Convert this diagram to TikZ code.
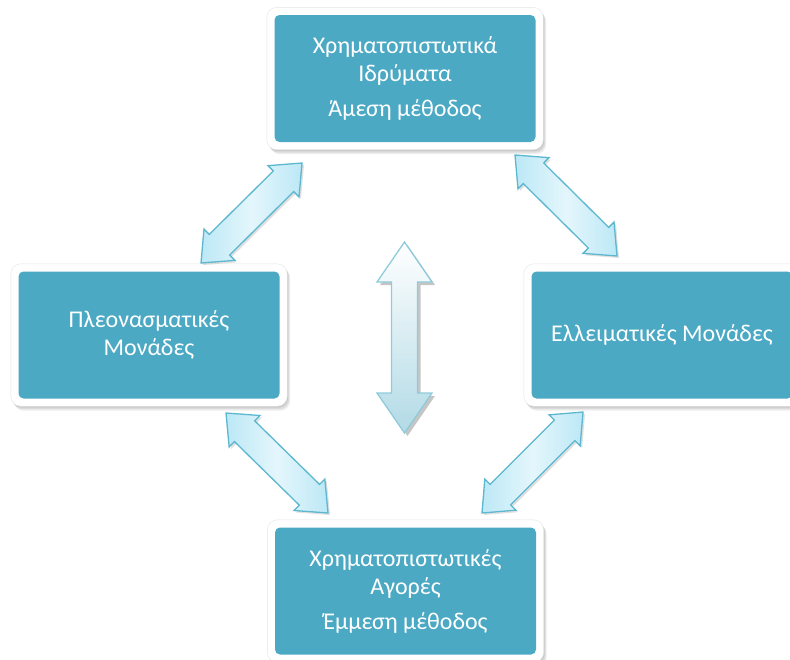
\documentclass[tikz,border=0pt]{standalone}
\usepackage{fontspec}
\setmainfont{Carlito}
\usetikzlibrary{calc,fit,backgrounds}
\definecolor{boxteal}{HTML}{4BA9C4}
\definecolor{arrowedge}{HTML}{5CB7CF}
\definecolor{arrowlight}{HTML}{E4F6FC}
\definecolor{arrowdark}{HTML}{BCE8F6}
\definecolor{cedge}{HTML}{8FCBDB}
\definecolor{cbottom}{HTML}{B2DAE6}
\newcommand\barrow[6]{%
  \path[#6] let \p1=#1, \p2=#2, \n1={veclen(\x2-\x1,\y2-\y1)}, \n2={atan2(\y2-\y1,\x2-\x1)} in
   [shift={(\p1)}, rotate=\n2]
   (0,0) -- (#5,#4) -- (#5,#3) -- (\n1-#5,#3) -- (\n1-#5,#4) -- (\n1,0)
   -- (\n1-#5,-#4) -- (\n1-#5,-#3) -- (#5,-#3) -- (#5,-#4) -- cycle;
}
\tikzset{
  box/.style={fill=boxteal, text=white, rounded corners=5pt, align=center,
    minimum width=261pt, minimum height=127pt, inner sep=0pt,
    font=\fontsize{24}{28}\selectfont},
  frame/.style={fill=white, draw=black!10, rounded corners=10pt, inner sep=7.5pt,
    preaction={fill=black, opacity=.08, transform canvas={shift={(1pt,-1.5pt)}}},
    preaction={fill=black, opacity=.08, transform canvas={shift={(2pt,-3pt)}}},
    preaction={fill=black, opacity=.07, transform canvas={shift={(3pt,-4.5pt)}}}},
  diag/.style={draw=arrowedge, line width=1.3pt, line join=miter,
    left color=arrowdark, right color=arrowdark, middle color=arrowlight,
    preaction={fill=black, opacity=.12, transform canvas={shift={(2pt,-2pt)}}}},
  center/.style={draw=cedge, line width=1.3pt, top color=white, bottom color=cbottom,
    preaction={fill=black!45, opacity=.5, transform canvas={shift={(3pt,-3pt)}}}}
}
\begin{document}
\begin{tikzpicture}[x=1pt,y=-1pt]
\useasboundingbox (0,0) rectangle (790,659);
\node[box] (t) at (405,78.5) {Χρηματοπιστωτικά\\Ιδρύματα\\[7pt]Άμεση μέθοδος};
\node[box] (l) at (149,335) {Πλεονασματικές\\Μονάδες};
\node[box] (r) at (662,335) {Ελλειματικές Μονάδες};
\node[box] (b) at (405.5,591) {Χρηματοπιστωτικές\\Αγορές\\[7pt]Έμμεση μέθοδος};
\begin{scope}[on background layer]
  \node[frame, fit=(t)] (tf) {};
  \node[frame, fit=(l)] (lf) {};
  \node[frame, fit=(r)] (rf) {};
  \node[frame, fit=(b)] (bf) {};
\end{scope}
% block arrows between the boxes
\coordinate (tl1) at (201,263); \coordinate (tl2) at (302,163);
\coordinate (tr1) at (515,155); \coordinate (tr2) at (617,256);
\coordinate (bl1) at (226,413); \coordinate (bl2) at (328,513);
\coordinate (br1) at (583,412); \coordinate (br2) at (482,513);
\barrow{(tl1)}{(tl2)}{14.5}{22}{26}{diag}
\barrow{(tr1)}{(tr2)}{14.5}{22}{26}{diag}
\barrow{(bl1)}{(bl2)}{14.5}{22}{26}{diag}
\barrow{(br1)}{(br2)}{14.5}{22}{26}{diag}
% central vertical double arrow
\coordinate (c1) at (404.5,242); \coordinate (c2) at (404.5,433);
\path[center] (c1) -- ++(27.5,40) -- ++(-14.5,0) -- ($(c2)+(13,-40)$) -- ++(14.5,0) -- (c2)
  -- ++(-27.5,-40) -- ++(14.5,0) -- ($(c1)+(-13,40)$) -- ++(-14.5,0) -- cycle;
\end{tikzpicture}
\end{document}
